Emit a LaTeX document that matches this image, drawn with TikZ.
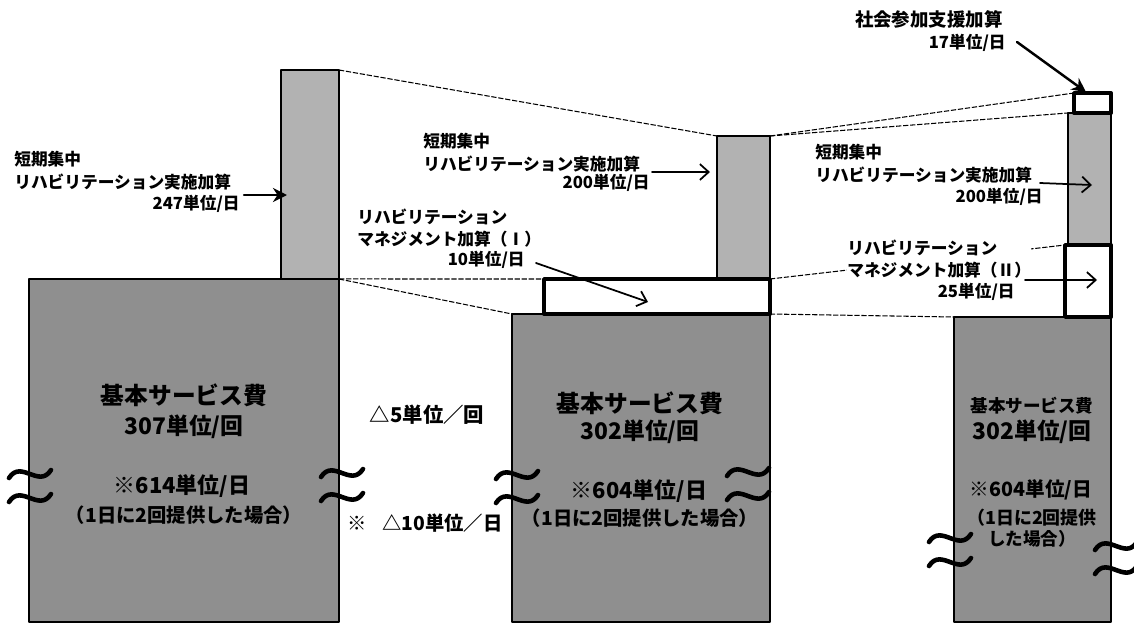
\documentclass[tikz,border=0pt]{standalone}
\usepackage{fontspec}
\newfontfamily\jpfont{Noto Sans CJK JP}
\usetikzlibrary{arrows.meta}
\definecolor{basegray}{gray}{0.56}
\definecolor{bargray}{gray}{0.70}

\begin{document}
\begin{tikzpicture}[x=0.02cm,y=-0.02cm,line cap=round,line join=round,
  cell/.style={draw=black,line width=0.9pt,anchor=north west,inner sep=0pt,outer sep=0pt},
  basebox/.style={cell,fill=basegray},
  barbox/.style={cell,fill=bargray},
  addbox/.style={cell,line width=2.2pt,fill=white},
  guide/.style={dash pattern=on 3pt off 1pt,line width=0.6pt,line cap=butt},
  lbl/.style={font=\jpfont\bfseries\fontsize{9.5}{13}\selectfont,align=left,inner sep=0pt},
  txt/.style={font=\jpfont\bfseries,inner sep=0pt,align=center},
  ptr/.style={-{Straight Barb[length=5pt,width=9pt]},line width=1pt},
  ptrb/.style={-{Stealth[length=8pt,width=8pt]},line width=1.4pt},
  brk/.pic={\draw[line width=2.6pt] (-21,4) .. controls (-9,-15) and (9,15) .. (21,-4);
            \draw[line width=2.6pt] (-21,28) .. controls (-9,9) and (9,39) .. (21,20);}]
\useasboundingbox (0,0) rectangle (1134,626);

% boxes
\node[barbox,minimum width=1.16cm,minimum height=4.18cm] (barL) at (281,70) {};
\node[basebox,minimum width=6.2cm,minimum height=6.86cm] (baseL) at (29,279) {};
\node[basebox,minimum width=5.16cm,minimum height=6.16cm] (baseM) at (512,314) {};
\node[barbox,minimum width=1.06cm,minimum height=2.86cm] (barM) at (717,136) {};
\node[addbox,minimum width=4.52cm,minimum height=0.70cm] (mgmtI) at (544,279) {};
\node[basebox,minimum width=3.14cm,minimum height=6.10cm] (baseR) at (954,317) {};
\node[barbox,minimum width=0.86cm,minimum height=2.64cm] (barR) at (1068,113) {};
\node[addbox,minimum width=0.92cm,minimum height=1.44cm] (mgmtII) at (1065,245) {};
\node[addbox,minimum width=0.74cm,minimum height=0.40cm] (soc) at (1074,93) {};

% guide lines
\draw[guide] (barL.north east) -- (barM.north west);
\draw[guide] (barL.south east) -- (mgmtI.north west);
\draw[guide] (baseL.north east) -- (baseM.north west);
\draw[guide] (barM.north east) -- (soc.north west);
\draw[guide] (barM.north east) -- (barR.north west);
\draw[guide] (mgmtI.north east) -- (mgmtII.north west);
\draw[guide] (mgmtI.south east) -- (baseR.north west);

% labels
\node[lbl,anchor=west] (t247) at (14,171) {短期集中\\リハビリテーション実施加算};
\node[lbl,anchor=east] (v247) at (240,204) {247単位/日};
\node[lbl,anchor=west] (t200a) at (423,153) {短期集中\\リハビリテーション実施加算};
\node[lbl,anchor=east] (v200a) at (650,183) {200単位/日};
\node[lbl,anchor=west] (tmgI) at (357,228) {リハビリテーション\\マネジメント加算（Ⅰ）};
\node[lbl,anchor=east] (vmgI) at (525,260) {10単位/日};
\node[lbl,anchor=east,font=\jpfont\bfseries\fontsize{10.5}{13}\selectfont] (tsoc) at (1003,19) {社会参加支援加算};
\node[lbl,anchor=east] (vsoc) at (1006,43) {17単位/日};
\node[lbl,anchor=west] (t200b) at (815,164) {短期集中\\リハビリテーション実施加算};
\node[lbl,anchor=east] (v200b) at (1043,197) {200単位/日};
\node[lbl,anchor=west,fill=white] (tmgII) at (847,259) {リハビリテーション\\マネジメント加算（Ⅱ）};
\node[lbl,anchor=east] (vmgII) at (1015,292) {25単位/日};

% arrows
\coordinate (s247) at (244,195);   \coordinate (e247) at (287,195);
\coordinate (s200a) at (652,172);  \coordinate (e200a) at (710,172);
\coordinate (smgI) at (536,263);   \coordinate (emgI) at (648,302);
\coordinate (ssoc) at (1017,42);   \coordinate (esoc) at (1086,92);
\coordinate (s200b) at (1040,183); \coordinate (e200b) at (1092,185);
\coordinate (smgII) at (1025,280); \coordinate (emgII) at (1097,280);
\draw[ptrb] (s247) -- (e247);
\draw[ptr] (s200a) -- (e200a);
\draw[ptr] (smgI) -- (emgI);
\draw[ptrb] (ssoc) -- (esoc);
\draw[ptr] (s200b) -- (e200b);
\draw[ptr] (smgII) -- (emgII);

% base texts
\node[txt] (kL) at (184,395) {\fontsize{13.5}{16}\selectfont 基本サービス費};
\node[txt] (uL) at (184,427) {\fontsize{13}{16}\selectfont 307単位/回};
\node[txt] (dL) at (182,486) {\fontsize{12.5}{16}\selectfont ※614単位/日};
\node[txt] (nL) at (184,515) {\fontsize{11}{14}\selectfont （1日に2回提供した場合）};
\node[txt] (kM) at (640,403) {\fontsize{13.5}{16}\selectfont 基本サービス費};
\node[txt] (uM) at (640,432) {\fontsize{13}{16}\selectfont 302単位/回};
\node[txt] (dM) at (639,491) {\fontsize{12.5}{16}\selectfont ※604単位/日};
\node[txt] (nM) at (640,518) {\fontsize{11}{14}\selectfont （1日に2回提供した場合）};
\node[txt] (kR) at (1032,406) {\fontsize{10}{12}\selectfont 基本サービス費};
\node[txt] (uR) at (1032,432) {\fontsize{13}{16}\selectfont 302単位/回};
\node[txt] (dR) at (1031,490) {\fontsize{11.2}{14}\selectfont ※604単位/日};
\node[txt] (nR) at (1032,528) {\fontsize{10.2}{12.5}\selectfont （1日に2回提供\\した場合）};

% reductions
\node[txt] (red1) at (427,415) {\fontsize{11.6}{14}\selectfont △5単位／回};
\node[txt] (red2) at (425,523) {\fontsize{11}{14}\selectfont ※\hspace{0.8em}△10単位／日};

% break marks
\pic at (30,474) {brk};
\pic at (342,473) {brk};
\pic at (517,475) {brk};
\pic at (748,472) {brk};
\pic at (950,538) {brk};
\pic at (1116,546) {brk};
\end{tikzpicture}
\end{document}
